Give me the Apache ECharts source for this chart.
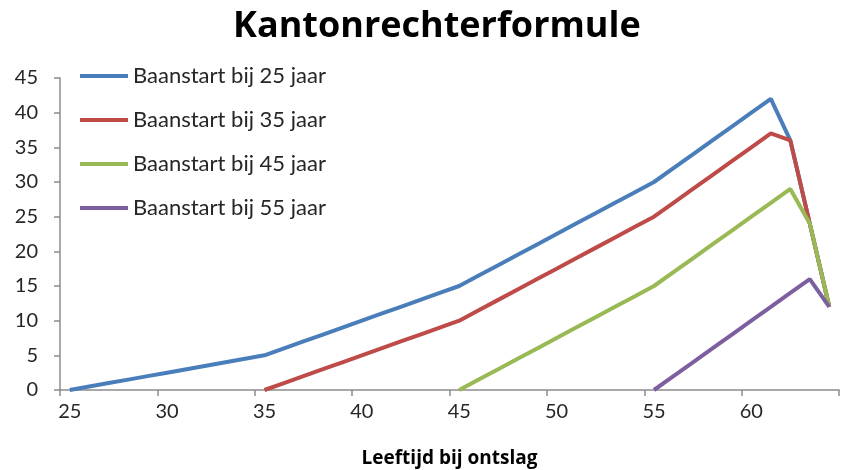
<!DOCTYPE html>
<html>
<head>
<meta charset="utf-8">
<script src="https://cdn.jsdelivr.net/npm/echarts@6/dist/echarts.min.js"></script>
<style>html,body{margin:0;padding:0;background:#fff}#c{width:846px;height:470px}</style>
</head>
<body>
<div id="c"></div>
<script>
var ages = [25,26,27,28,29,30,31,32,33,34,35,36,37,38,39,40,41,42,43,44,45,46,47,48,49,50,51,52,53,54,55,56,57,58,59,60,61,62,63,64];
var seriesNames = ['Baanstart bij 25 jaar','Baanstart bij 35 jaar','Baanstart bij 45 jaar','Baanstart bij 55 jaar'];
var start25 = [0,0.5,1,1.5,2,2.5,3,3.5,4,4.5,5,6,7,8,9,10,11,12,13,14,15,16.5,18,19.5,21,22.5,24,25.5,27,28.5,30,32,34,36,38,40,42,36,24,12];
var start35 = [null,null,null,null,null,null,null,null,null,null,0,1,2,3,4,5,6,7,8,9,10,11.5,13,14.5,16,17.5,19,20.5,22,23.5,25,27,29,31,33,35,37,36,24,12];
var start45 = [null,null,null,null,null,null,null,null,null,null,null,null,null,null,null,null,null,null,null,null,0,1.5,3,4.5,6,7.5,9,10.5,12,13.5,15,17,19,21,23,25,27,29,24,12];
var start55 = [null,null,null,null,null,null,null,null,null,null,null,null,null,null,null,null,null,null,null,null,null,null,null,null,null,null,null,null,null,null,0,2,4,6,8,10,12,14,16,12];
var colors = ['#4A7EBB','#BE4B48','#98B954','#7D5FA0'];
var allData = [start25,start35,start45,start55];

var font = 'Lato, "Open Sans", sans-serif';
var boldFont = '"Open Sans", Lato, sans-serif';
var chart = echarts.init(document.getElementById('c'), null, {renderer:'canvas'});
var series = seriesNames.map(function(n,i){
  return {
    name:n, type:'line', data:allData[i], showSymbol:false, symbol:'none',
    lineStyle:{width:4,color:colors[i]}, itemStyle:{color:colors[i]},
    connectNulls:false, animation:false
  };
});
chart.setOption({
  animation:false,
  title:{text:'Kantonrechterformule', left:228, top:4,
    textStyle:{fontFamily:boldFont, fontSize:36, fontWeight:'bold', color:'#000'}},
  legend:{
    orient:'vertical', left:80, top:65, padding:0, itemWidth:48, itemHeight:4, itemGap:22,
    icon:'rect',
    textStyle:{fontFamily:font, fontSize:22, color:'#262626', lineHeight:20},
    data:seriesNames
  },
  grid:{left:60, right:7, top:78, bottom:80, containLabel:false, outerBoundsMode:'none'},
  xAxis:{
    type:'category', data:ages, boundaryGap:true,
    name:'Leeftijd bij ontslag', nameLocation:'middle', nameGap:59,
    nameTextStyle:{fontFamily:boldFont, fontSize:19, fontWeight:'bold', color:'#000'},
    axisLine:{show:true, onZero:false, lineStyle:{color:'#8c8c8c', width:1.5}},
    axisTick:{show:true, interval:4, length:6, alignWithLabel:false, lineStyle:{color:'#8c8c8c', width:1.5}},
    axisLabel:{show:true, interval:4, margin:12, fontFamily:font, fontSize:20, color:'#262626'},
    splitLine:{show:false}
  },
  yAxis:{
    type:'value', min:0, max:45, interval:5,
    axisLine:{show:true, lineStyle:{color:'#8c8c8c', width:1.5}},
    axisTick:{show:true, length:6, lineStyle:{color:'#8c8c8c', width:1.5}},
    axisLabel:{margin:22, fontFamily:font, fontSize:20, color:'#262626'},
    splitLine:{show:false}
  },
  series:series
});
</script>
</body>
</html>
